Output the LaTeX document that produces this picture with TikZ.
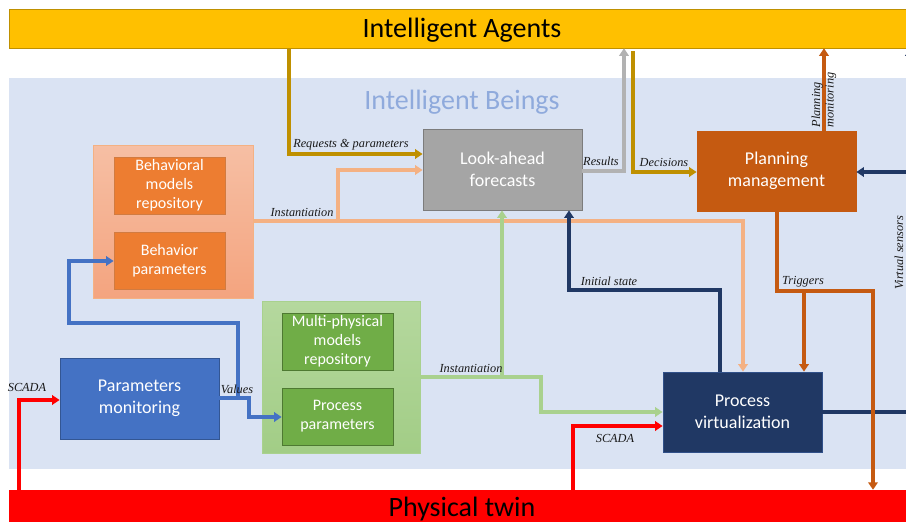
\documentclass[tikz,border=0pt]{standalone}
\usepackage{fontspec}
\setmainfont{Carlito}
\newfontfamily\lblfont{Liberation Serif}
\usetikzlibrary{arrows.meta}
\definecolor{agold}{HTML}{FFC000}
\definecolor{lgold}{HTML}{BF9000}
\definecolor{beingsbg}{HTML}{DAE3F3}
\definecolor{beingstx}{HTML}{8FAADC}
\definecolor{lorange}{HTML}{F4B183}
\definecolor{morange}{HTML}{ED7D31}
\definecolor{dorange}{HTML}{C55A11}
\definecolor{dblue}{HTML}{203864}
\definecolor{mblue}{HTML}{4472C4}
\definecolor{lgreen}{HTML}{A9D18E}
\definecolor{mgreen}{HTML}{70AD47}
\definecolor{mgray}{HTML}{A5A5A5}
\definecolor{orctop}{HTML}{F6BFA4}
\definecolor{orcbot}{HTML}{F4A47F}
\definecolor{grctop}{HTML}{B5D89E}
\definecolor{grcbot}{HTML}{A2CD86}
\tikzset{
  bar/.style={rectangle,inner sep=0pt},
  bartext/.style={inner sep=0pt,font=\fontsize{28}{32}\selectfont,text=black},
  bigbox/.style={rectangle,inner sep=0pt,minimum width=159pt,minimum height=81pt,align=center,
    text=white,font=\fontsize{18}{21.5}\selectfont,line width=0.8pt},
  smallbox/.style={rectangle,inner sep=0pt,minimum width=111pt,minimum height=57pt,align=center,
    text=white,font=\fontsize{16}{19}\selectfont,line width=0.8pt},
  conn/.style={line width=3.1pt},
  arr/.style={conn,-{Triangle[length=7.5pt,width=9.5pt]}},
  lbl/.style={font=\lblfont\itshape\fontsize{12.3}{13.5}\selectfont,inner sep=0pt,text=black!90}
}
\begin{document}
\begin{tikzpicture}[x=1pt,y=-1pt]
\useasboundingbox (0,0) rectangle (906,522);
% background bands
\node[rectangle,fill=beingsbg,minimum width=906pt,minimum height=391pt,inner sep=0pt] (beings) at (462,273.5) {};
\node[font=\fontsize{28}{32}\selectfont,text=beingstx] (beingstitle) at (462,102) {Intelligent Beings};
\node[bar,fill=agold,draw=lgold,line width=0.6pt,minimum width=906pt,minimum height=39pt] (agents) at (462,28.5) {};
\node[bartext] (agentstxt) at (462,30.5) {Intelligent Agents};
\node[bar,fill=red,minimum width=906pt,minimum height=36pt] (pt) at (462,508) {};
\node[bartext] (pttxt) at (462,509.5) {Physical twin};
% containers
\node[rectangle,inner sep=0pt,minimum width=160pt,minimum height=153pt,top color=orctop,bottom color=orcbot,draw=lorange,line width=0.5pt] (orc) at (173,221.5) {};
\node[rectangle,inner sep=0pt,minimum width=158pt,minimum height=152pt,top color=grctop,bottom color=grcbot,draw=lgreen,line width=0.5pt] (grc) at (341,377) {};
% boxes
\node[smallbox,fill=morange,draw=dorange!80] (bmr) at (169.5,185.5) {Behavioral\\models\\repository};
\node[smallbox,fill=morange,draw=dorange!80] (bp) at (169.5,260.5) {Behavior\\parameters};
\node[smallbox,fill=mgreen,draw=mgreen!70!black] (mpm) at (337.5,341.5) {Multi-physical\\models\\repository};
\node[smallbox,fill=mgreen,draw=mgreen!70!black] (pp) at (337.5,416.5) {Process\\parameters};
\node[bigbox,fill=mgray,draw=mgray!75!black] (la) at (502.5,169.5) {Look-ahead\\forecasts};
\node[bigbox,fill=dorange,draw=dorange,minimum height=80pt] (pm) at (776.5,171) {Planning\\management};
\node[bigbox,fill=mblue,draw=mblue!75!black] (pmon) at (139.5,398.5) {Parameters\\monitoring};
\node[bigbox,fill=dblue,draw=mblue!70!black,minimum height=80pt] (pv) at (742.5,412) {Process\\virtualization};
% connectors
% Requests & parameters
\draw[arr,lgold] (agents.south -| 289,0) |- (la.west |- 0,154);
\node[lbl,anchor=south] (l1) at (351,150) {Requests \& parameters};
% Instantiation (behavioral)
\coordinate (ib) at (338,221);
\draw[arr,lorange] (orc.east |- 0,221) -| (pv.north -| 743,0);
\draw[arr,lorange] (ib) |- (la.west |- 0,170);
\node[lbl,anchor=south] (l2) at (302,217) {Instantiation};
% Results
\draw[arr,mgray!85] (la.east |- 0,171) -| (agents.south -| 624,0);
\node[lbl,anchor=south] (l3) at (601,166) {Results};
% Decisions
\coordinate (dec0) at (633,51);
\draw[arr,lgold] (dec0) |- (pm.west |- 0,172);
\node[lbl,anchor=south] (l4) at (664,167) {Decisions};
% Planning monitoring
\draw[arr,dorange] (pm.north -| 824,0) -- (agents.south -| 824,0);
\node[lbl,rotate=90,align=left] (l5) at (824,100) {Planning\\monitoring};
% Virtual sensors
\coordinate (vs0) at (910,412);
\coordinate (vs1) at (910,172);
\draw[conn,dblue] (pv.east |- 0,412) -- (vs0);
\draw[arr,dblue] (vs0) -- (agents.south -| 910,0);
\draw[arr,dblue] (vs1) -- (pm.east |- 0,172);
\node[lbl,rotate=90] (l6) at (899,253) {Virtual sensors};
% Triggers
\coordinate (tr0) at (777,291);
\coordinate (tr1) at (804,291);
\draw[arr,dorange] (pm.south -| 777,0) -- (tr0) -| (pt.north -| 873,0);
\draw[arr,dorange] (tr1) -- (pv.north -| 804,0);
\node[lbl,anchor=south] (l7) at (803,287) {Triggers};
% Initial state
\draw[arr,dblue] (pv.north -| 720,0) |- (569,290) -- (la.south -| 569,0);
\node[lbl,anchor=south] (l8) at (609,286) {Initial state};
% Instantiation (multi-physical)
\coordinate (ig) at (502,377);
\draw[arr,lgreen] (grc.east |- 0,377) -| (la.south -| 502,0);
\draw[arr,lgreen] (ig) -| (541,412) -- (pv.west |- 0,412);
\node[lbl,anchor=south] (l9) at (471,373) {Instantiation};
% Values
\coordinate (vb) at (238,398);
\draw[arr,mblue] (pmon.east |- 0,398) -| (249,417) -- (pp.west |- 0,417);
\draw[arr,mblue] (vb) |- (69,323) |- (bp.west |- 0,261);
\node[lbl,anchor=south] (l10) at (237,394) {Values};
% SCADA
\draw[arr,red] (pt.north -| 19,0) |- (pmon.west |- 0,400);
\node[lbl,anchor=south] (l11) at (27,392) {SCADA};
\draw[arr,red] (pt.north -| 573,0) |- (pv.west |- 0,426);
\node[lbl] (l12) at (615,438) {SCADA};
\end{tikzpicture}
\end{document}
